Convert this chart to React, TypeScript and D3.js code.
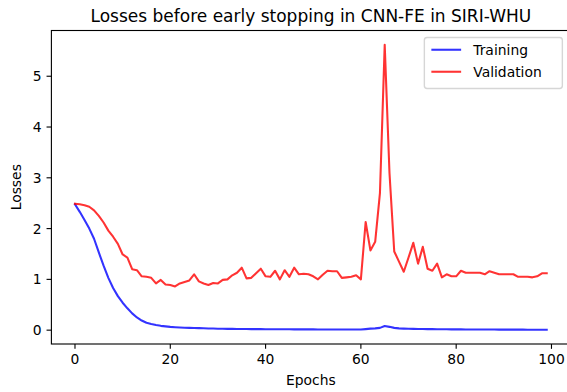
import React from "react";
import * as d3 from "d3";

const epochs: number[] = d3.range(100);

const training: number[] = [
  2.48, 2.33, 2.17, 2.0, 1.8, 1.53, 1.27, 1.03, 0.83, 0.67,
  0.54, 0.43, 0.33, 0.25, 0.19, 0.145, 0.12, 0.1, 0.085, 0.075,
  0.065, 0.058, 0.052, 0.047, 0.045, 0.043, 0.04, 0.036, 0.033, 0.031,
  0.029, 0.027, 0.026, 0.025, 0.024, 0.023, 0.022, 0.021, 0.021, 0.02,
  0.019, 0.019, 0.018, 0.018, 0.017, 0.017, 0.016, 0.016, 0.015, 0.015,
  0.015, 0.014, 0.014, 0.014, 0.013, 0.013, 0.013, 0.012, 0.012, 0.012,
  0.012, 0.02, 0.03, 0.035, 0.045, 0.08, 0.065, 0.045, 0.035, 0.03,
  0.027, 0.025, 0.023, 0.022, 0.021, 0.02, 0.019, 0.018, 0.017, 0.016,
  0.015, 0.015, 0.014, 0.014, 0.013, 0.013, 0.012, 0.012, 0.012, 0.011,
  0.011, 0.011, 0.01, 0.01, 0.01, 0.009, 0.009, 0.009, 0.008, 0.008,
];

const validation: number[] = [
  2.49, 2.48, 2.46, 2.43, 2.36, 2.25, 2.12, 1.96, 1.84, 1.7,
  1.49, 1.43, 1.2, 1.18, 1.06, 1.05, 1.03, 0.92, 0.99, 0.9,
  0.89, 0.86, 0.92, 0.95, 0.98, 1.1, 0.96, 0.92, 0.89, 0.93,
  0.92, 0.99, 1.0, 1.08, 1.13, 1.23, 1.02, 1.03, 1.12, 1.21,
  1.06, 1.05, 1.17, 1.0, 1.18, 1.05, 1.23, 1.1, 1.11, 1.1,
  1.06, 1.0, 1.09, 1.17, 1.16, 1.16, 1.03, 1.04, 1.05, 1.08,
  1.0, 2.13, 1.57, 1.74, 2.7, 5.62, 3.1, 1.55, 1.35, 1.15,
  1.43, 1.72, 1.31, 1.64, 1.21, 1.17, 1.31, 1.04, 1.1, 1.06,
  1.06, 1.17, 1.13, 1.13, 1.13, 1.13, 1.1, 1.16, 1.13, 1.1,
  1.1, 1.1, 1.1, 1.05, 1.05, 1.05, 1.04, 1.06, 1.12, 1.12,
];

const xTicks: number[] = [0, 20, 40, 60, 80, 100];
const yTicks: number[] = [0, 1, 2, 3, 4, 5];

const seriesNames: string[] = ["Training", "Validation"];
const seriesColors: string[] = ["#0000ff", "#ff0000"];

const W = 567;
const H = 392;
const PT = 100 / 72;
const FONT = "'DejaVu Sans', sans-serif";

export default function App() {
  const left = 51.4;
  const right = 570.3;
  const top = 30.5;
  const bottom = 344;

  const xMin = d3.min(epochs)!;
  const xMax = d3.max(epochs)!;
  const xPad = (xMax - xMin) * 0.05;
  const all = training.concat(validation);
  const yMin = d3.min(all)!;
  const yMax = d3.max(all)!;
  const yPad = (yMax - yMin) * 0.05;

  const x = d3.scaleLinear().domain([xMin - xPad, xMax + xPad]).range([left, right]);
  const y = d3.scaleLinear().domain([yMin - yPad, yMax + yPad]).range([bottom, top]);

  const line = d3
    .line<number>()
    .x((_, i) => x(epochs[i]))
    .y((d) => y(d));

  const series = [training, validation];
  const tickFont = 10 * PT;
  const tickLen = 3.5 * PT;
  const tickPad = 3.5 * PT;

  const lf = tickFont;
  const legRight = right - 0.5 * lf - 1;
  const legTop = top + 0.5 * lf;
  const legW = 138;
  const legH = 51;
  const legLeft = legRight - legW;
  const rowY = [legTop + 12.3, legTop + 34.3];

  return (
    <div style={{ position: "fixed", left: 0, top: 0 }}>
      <svg width={W} height={H} style={{ display: "block", background: "#fff" }} fontFamily={FONT}>
        <rect x={0} y={0} width={W} height={H} fill="#fff" />
        <defs>
          <clipPath id="plotclip">
            <rect x={left} y={top} width={right - left} height={bottom - top} />
          </clipPath>
        </defs>
        <g clipPath="url(#plotclip)">
          {series.map((s, k) => (
            <path
              key={k}
              d={line(s) || ""}
              fill="none"
              stroke={seriesColors[k]}
              strokeOpacity={0.8}
              strokeWidth={1.5 * PT}
              strokeLinejoin="round"
              strokeLinecap="square"
            />
          ))}
        </g>
        <rect
          x={left}
          y={top}
          width={right - left}
          height={bottom - top}
          fill="none"
          stroke="#000"
          strokeWidth={0.8 * PT}
        />
        {xTicks.map((t) => (
          <g key={"x" + t}>
            <line x1={x(t)} x2={x(t)} y1={bottom} y2={bottom + tickLen} stroke="#000" strokeWidth={0.8 * PT} />
            <text
              x={x(t)}
              y={bottom + tickLen + tickPad + 0.76 * tickFont}
              fontSize={tickFont}
              textAnchor="middle"
              fill="#000"
            >
              {t}
            </text>
          </g>
        ))}
        {yTicks.map((t) => (
          <g key={"y" + t}>
            <line x1={left - tickLen} x2={left} y1={y(t)} y2={y(t)} stroke="#000" strokeWidth={0.8 * PT} />
            <text
              x={left - tickLen - tickPad}
              y={y(t)}
              dy="0.36em"
              fontSize={tickFont}
              textAnchor="end"
              fill="#000"
            >
              {t}
            </text>
          </g>
        ))}
        <text x={(left + right) / 2} y={385} fontSize={tickFont} textAnchor="middle" fill="#000">
          Epochs
        </text>
        <text
          transform={`translate(21,${(top + bottom) / 2}) rotate(-90)`}
          fontSize={tickFont}
          textAnchor="middle"
          fill="#000"
        >
          Losses
        </text>
        <text x={(left + right) / 2} y={top - 6 * PT} fontSize={17} textAnchor="middle" fill="#000">
          Losses before early stopping in CNN-FE in SIRI-WHU
        </text>
        <rect
          x={legLeft}
          y={legTop}
          width={legW}
          height={legH}
          rx={0.2 * lf}
          fill="#fff"
          fillOpacity={0.8}
          stroke="#cccccc"
          strokeOpacity={0.8}
          strokeWidth={1 * PT}
        />
        {seriesNames.map((n, k) => (
          <g key={n}>
            <line
              x1={legLeft + 7}
              x2={legLeft + 7 + 2 * lf + 2}
              y1={rowY[k]}
              y2={rowY[k]}
              stroke={seriesColors[k]}
              strokeOpacity={0.8}
              strokeWidth={1.5 * PT}
            />
            <text x={legLeft + 7 + 2.8 * lf + 3} y={rowY[k]} dy="0.36em" fontSize={lf} fill="#000">
              {n}
            </text>
          </g>
        ))}
      </svg>
    </div>
  );
}
